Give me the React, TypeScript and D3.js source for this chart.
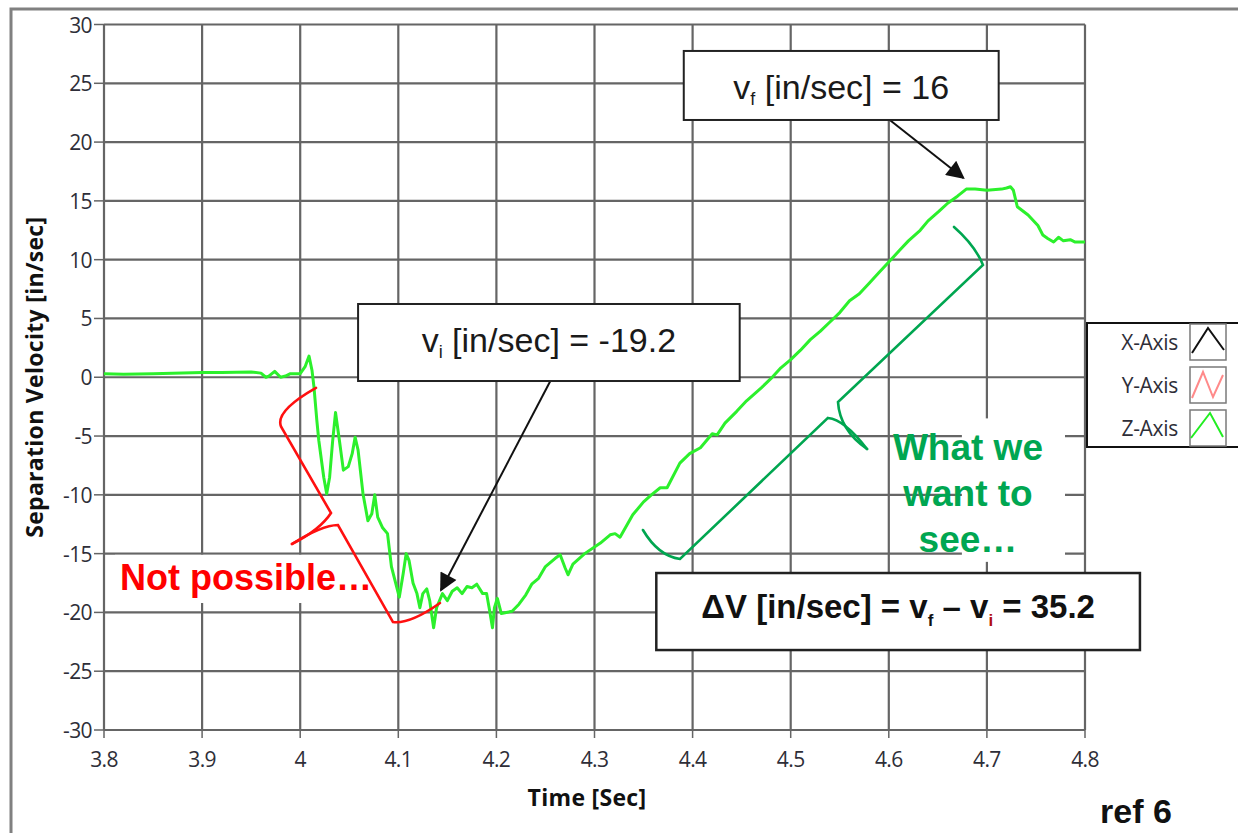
import * as d3 from "d3";

// Z-Axis separation velocity
const timeSec = [
  3.8, 3.82, 3.85, 3.9, 3.92, 3.95, 3.96, 3.965, 3.968, 3.974, 3.98, 3.985, 3.99, 4.0,
  4.005, 4.009, 4.012, 4.014, 4.017, 4.019, 4.024, 4.027, 4.03, 4.033, 4.036, 4.04,
  4.044, 4.049, 4.053, 4.056, 4.059, 4.064, 4.069, 4.073, 4.076, 4.079, 4.084, 4.089,
  4.093, 4.101, 4.105, 4.108, 4.111, 4.115, 4.119, 4.122, 4.125, 4.129, 4.132, 4.136,
  4.139, 4.145, 4.15, 4.155, 4.16, 4.165, 4.17, 4.175, 4.18, 4.186, 4.19, 4.193, 4.196,
  4.198, 4.201, 4.205, 4.21, 4.216, 4.223, 4.23, 4.236, 4.243, 4.25, 4.26, 4.265, 4.27,
  4.273, 4.278, 4.29, 4.306, 4.316, 4.321, 4.326, 4.339, 4.35, 4.358, 4.367, 4.374,
  4.387, 4.397, 4.408, 4.42, 4.425, 4.433, 4.445, 4.455, 4.47, 4.48, 4.49, 4.5, 4.51,
  4.52, 4.53, 4.54, 4.55, 4.56, 4.57, 4.58, 4.59, 4.6, 4.611, 4.62, 4.632, 4.64, 4.651,
  4.66, 4.67, 4.679, 4.688, 4.7, 4.715, 4.72, 4.724, 4.727, 4.731, 4.742, 4.752, 4.757,
  4.762, 4.768, 4.773, 4.778, 4.785, 4.79, 4.8,
];
const velocityZ = [
  0.3, 0.25, 0.3, 0.4, 0.4, 0.45, 0.35, 0.0, 0.1, 0.5, 0.0, 0.1, 0.3, 0.3,
  0.9, 1.8, 0.6, -0.8, -3.7, -5.4, -8.5, -9.9, -8.5, -5.5, -3.0, -5.4,
  -7.9, -7.6, -6.5, -5.1, -6.2, -9.9, -12.2, -11.6, -10.0, -11.9, -12.8, -13.3,
  -16.1, -18.7, -16.7, -15.0, -15.6, -17.5, -18.4, -19.6, -18.4, -18.0, -19.0, -21.3,
  -19.6, -18.4, -19.0, -18.2, -17.9, -18.4, -17.8, -17.9, -17.6, -18.4, -18.4, -19.8, -21.3,
  -19.6, -18.8, -20.1, -20.0, -19.9, -19.3, -18.5, -17.6, -17.1, -16.1, -15.4, -15.1, -16.2,
  -16.8, -15.9, -15.0, -14.1, -13.4, -13.3, -13.6, -11.7, -10.6, -10.0, -9.4, -9.4,
  -7.3, -6.5, -6.0, -4.8, -4.9, -3.9, -2.9, -2.0, -0.9, -0.1, 0.8, 1.5, 2.3,
  3.2, 3.9, 4.7, 5.5, 6.5, 7.1, 8.0, 8.9, 9.8, 10.8, 11.6, 12.5, 13.3, 14.1,
  14.8, 15.4, 16.0, 16.0, 15.9, 16.0, 16.1, 16.2, 15.9, 14.5, 13.8, 12.9, 12.1,
  11.8, 11.5, 11.9, 11.6, 11.7, 11.5, 11.5,
];

const xTicks = [3.8, 3.9, 4.0, 4.1, 4.2, 4.3, 4.4, 4.5, 4.6, 4.7, 4.8];
const xTickLabels = ["3.8", "3.9", "4", "4.1", "4.2", "4.3", "4.4", "4.5", "4.6", "4.7", "4.8"];
const yTicks = [-30, -25, -20, -15, -10, -5, 0, 5, 10, 15, 20, 25, 30];

const legendLabels = ["X-Axis", "Y-Axis", "Z-Axis"];
const legendColors = ["#111111", "#ff8a8a", "#22ee22"];

// annotation anchors, in data units [time, velocity]
const vfBox = [[4.391, 27.75], [4.712, 21.88]];
const viBox = [[4.059, 6.23], [4.448, -0.32]];
const dvBox = [[4.363, -16.65], [4.856, -23.2]];
const vfArrow = [[4.601, 21.88], [4.676, 16.95]];
const viArrow = [[4.255, -0.32], [4.1435, -18.1]];

const W = 1238;
const H = 833;
const plot = { left: 104, right: 1085, top: 24.5, bottom: 730 };

const tickFont = "'Open Sans', 'DejaVu Sans', sans-serif";
const arial = "'Liberation Sans', Arial, sans-serif";

export default function App() {
  const x = d3.scaleLinear().domain([3.8, 4.8]).range([plot.left, plot.right]);
  const y = d3.scaleLinear().domain([-30, 30]).range([plot.bottom, plot.top]);

  const pts = timeSec.map((t, i) => [t, velocityZ[i]] as [number, number]);
  const line = d3
    .line<[number, number]>()
    .x((d) => x(d[0]))
    .y((d) => y(d[1]));

  const P = (t: number, v: number) => `${x(t)},${y(v)}`;

  // hand-drawn curly brackets
  const redBracket = [
    `M${P(4.0161, -0.91)} Q${P(3.974, -2.9)} ${P(3.9805, -4.2)} L${P(4.0314, -11.55)} Q${P(4.02, -13.0)} ${P(3.9916, -14.18)}`,
    `M${P(3.9916, -14.18)} Q${P(4.022, -12.6)} ${P(4.0385, -12.57)} L${P(4.0946, -20.82)} Q${P(4.112, -21.0)} ${P(4.1425, -19.2)}`,
  ];
  const greenBracket = [
    `M${P(4.6665, 12.78)} Q${P(4.688, 11.2)} ${P(4.696, 9.55)} L${P(4.5482, -2.1)} Q${P(4.55, -4.5)} ${P(4.5778, -6.1)}`,
    `M${P(4.5778, -6.1)} Q${P(4.555, -3.6)} ${P(4.538, -3.46)} L${P(4.3872, -15.45)} Q${P(4.365, -15.2)} ${P(4.3494, -12.99)}`,
  ];

  const box = (b: number[][]) => ({
    x: x(b[0][0]),
    y: y(b[0][1]),
    w: x(b[1][0]) - x(b[0][0]),
    h: y(b[1][1]) - y(b[0][1]),
  });
  const b1 = box(vfBox);
  const b2 = box(viBox);
  const b3 = box(dvBox);

  const legendRowsY = [324, 367, 410];
  const legendIcon = [
    "M2,29 L18,4 L34,26",
    "M2,31 L13,5 L23,30 L33,8",
    "M1,28 L20,3 L33,27",
  ];

  return (
    <div style={{ position: "absolute", left: 0, top: 0 }}>
      <svg width={W} height={H} style={{ display: "block", background: "#fff" }}>
        <defs>
          <marker id="ahBig" viewBox="0 0 10 10" refX="9" refY="5" markerWidth="22" markerHeight="18" orient="auto" markerUnits="userSpaceOnUse">
            <path d="M0,0 L10,5 L0,10 z" fill="#111" />
          </marker>
        </defs>

        {/* outer frame */}
        <path d={`M11,${H} L11,9 L${W},9`} fill="none" stroke="#808080" strokeWidth={3} />

        {/* grid */}
        <g stroke="#555" strokeWidth={2.2} opacity={0.9}>
          {xTicks.map((t) => (
            <line key={"gx" + t} x1={x(t)} x2={x(t)} y1={plot.top} y2={plot.bottom} />
          ))}
          {yTicks.map((v) => (
            <line key={"gy" + v} x1={plot.left} x2={plot.right} y1={y(v)} y2={y(v)} />
          ))}
          {xTicks.map((t) => (
            <line key={"tx" + t} x1={x(t)} x2={x(t)} y1={plot.bottom} y2={plot.bottom + 8} strokeWidth={1.5} />
          ))}
          {yTicks.map((v) => (
            <line key={"ty" + v} x1={plot.left - 10} x2={plot.left} y1={y(v)} y2={y(v)} strokeWidth={1.5} />
          ))}
        </g>

        {/* tick labels */}
        <g fontFamily={tickFont} fontSize={21} fill="#2e2e38" letterSpacing={-0.6}>
          {yTicks.map((v) => (
            <text key={"ly" + v} x={plot.left - 12} y={y(v) + 8} textAnchor="end">
              {v}
            </text>
          ))}
          {xTicks.map((t, i) => (
            <text key={"lx" + t} x={x(t)} y={plot.bottom + 37} textAnchor="middle">
              {xTickLabels[i]}
            </text>
          ))}
        </g>

        {/* axis titles */}
        <text x={587} y={806} textAnchor="middle" fontFamily={tickFont} fontWeight="bold" fontSize={23} fill="#111" letterSpacing={0.3}>
          Time [Sec]
        </text>
        <text
          transform={`translate(43,${y(0)}) rotate(-90)`}
          textAnchor="middle"
          fontFamily={tickFont}
          fontWeight="bold"
          fontSize={23}
          fill="#111"
          letterSpacing={0.3}
        >
          Separation Velocity [in/sec]
        </text>

        {/* data */}
        <path d={line(pts) ?? ""} fill="none" stroke="#2cf02c" strokeWidth={3} strokeLinejoin="round" />

        {/* white patches behind the handwritten notes */}
        <rect x={x(3.8112)} y={y(-15.1)} width={x(4.087) - x(3.8112)} height={y(-19.2) - y(-15.1)} fill="#fff" />
        <rect x={x(4.6745)} y={y(-3.5)} width={x(4.7796) - x(4.6745)} height={y(-15.7) - y(-3.5)} fill="#fff" />

        {/* legend */}
        <rect x={1087} y={323} width={200} height={124} fill="#fff" stroke="#111" strokeWidth={2} />
        {legendLabels.map((lab, i) => (
          <g key={lab}>
            <text x={1178} y={legendRowsY[i] + 26} textAnchor="end" fontFamily={tickFont} fontSize={21} fill="#2e2e38" letterSpacing={-0.3}>
              {lab}
            </text>
            <g transform={`translate(1190,${legendRowsY[i]})`}>
              <rect width={36} height={36} fill="#fff" stroke="#7a7a7a" strokeWidth={1.5} />
              <path d={legendIcon[i]} fill="none" stroke={legendColors[i]} strokeWidth={2} />
            </g>
          </g>
        ))}

        {/* brackets */}
        {redBracket.map((d, i) => (
          <path key={"rb" + i} d={d} fill="none" stroke="#ff1010" strokeWidth={2.6} strokeLinecap="round" />
        ))}
        {greenBracket.map((d, i) => (
          <path key={"gb" + i} d={d} fill="none" stroke="#00a650" strokeWidth={2.6} strokeLinecap="round" />
        ))}

        {/* notes */}
        <text x={x(3.8163)} y={y(-18.1)} fontFamily={arial} fontWeight="bold" fontSize={36} fill="#ff0000">
          Not possible…
        </text>
        <g fontFamily={arial} fontWeight="bold" fontSize={37} fill="#00a651" textAnchor="middle">
          {["What we", "want to", "see…"].map((s, i) => (
            <text key={s} x={x(4.6807)} y={y(-7.04) + i * 46}>
              {s}
            </text>
          ))}
        </g>

        {/* arrows */}
        <line
          x1={x(vfArrow[0][0])}
          y1={y(vfArrow[0][1])}
          x2={x(vfArrow[1][0])}
          y2={y(vfArrow[1][1])}
          stroke="#111"
          strokeWidth={2}
          markerEnd="url(#ahBig)"
        />
        <line
          x1={x(viArrow[0][0])}
          y1={y(viArrow[0][1])}
          x2={x(viArrow[1][0])}
          y2={y(viArrow[1][1])}
          stroke="#111"
          strokeWidth={2}
          markerEnd="url(#ahBig)"
        />

        {/* value boxes */}
        <rect x={b1.x} y={b1.y} width={b1.w} height={b1.h} fill="#fff" stroke="#222" strokeWidth={2} />
        <text x={b1.x + b1.w / 2} y={b1.y + 48} textAnchor="middle" fontFamily={arial} fontSize={34} fill="#1a1a1a">
          v<tspan fontSize={18} dy={6}>f</tspan>
          <tspan dy={-6}> [in/sec] = 16</tspan>
        </text>

        <rect x={b2.x} y={b2.y} width={b2.w} height={b2.h} fill="#fff" stroke="#222" strokeWidth={2} />
        <text x={b2.x + b2.w / 2} y={b2.y + 48} textAnchor="middle" fontFamily={arial} fontSize={34} fill="#1a1a1a">
          v<tspan fontSize={18} dy={6}>i</tspan>
          <tspan dy={-6}> [in/sec] = -19.2</tspan>
        </text>

        <rect x={b3.x} y={b3.y} width={b3.w} height={b3.h} fill="#fff" stroke="#222" strokeWidth={2.5} />
        <text x={b3.x + b3.w / 2} y={b3.y + 45} textAnchor="middle" fontFamily={arial} fontWeight="bold" fontSize={33} fill="#111">
          ΔV [in/sec] = v<tspan fontSize={17} dy={8}>f</tspan>
          <tspan dy={-8}> – v</tspan>
          <tspan fontSize={17} dy={8} fill="#b01010">i</tspan>
          <tspan dy={-8}> = 35.2</tspan>
        </text>

        <text x={1100} y={823} fontFamily={arial} fontWeight="bold" fontSize={34} fill="#111">
          ref 6
        </text>
      </svg>
    </div>
  );
}
